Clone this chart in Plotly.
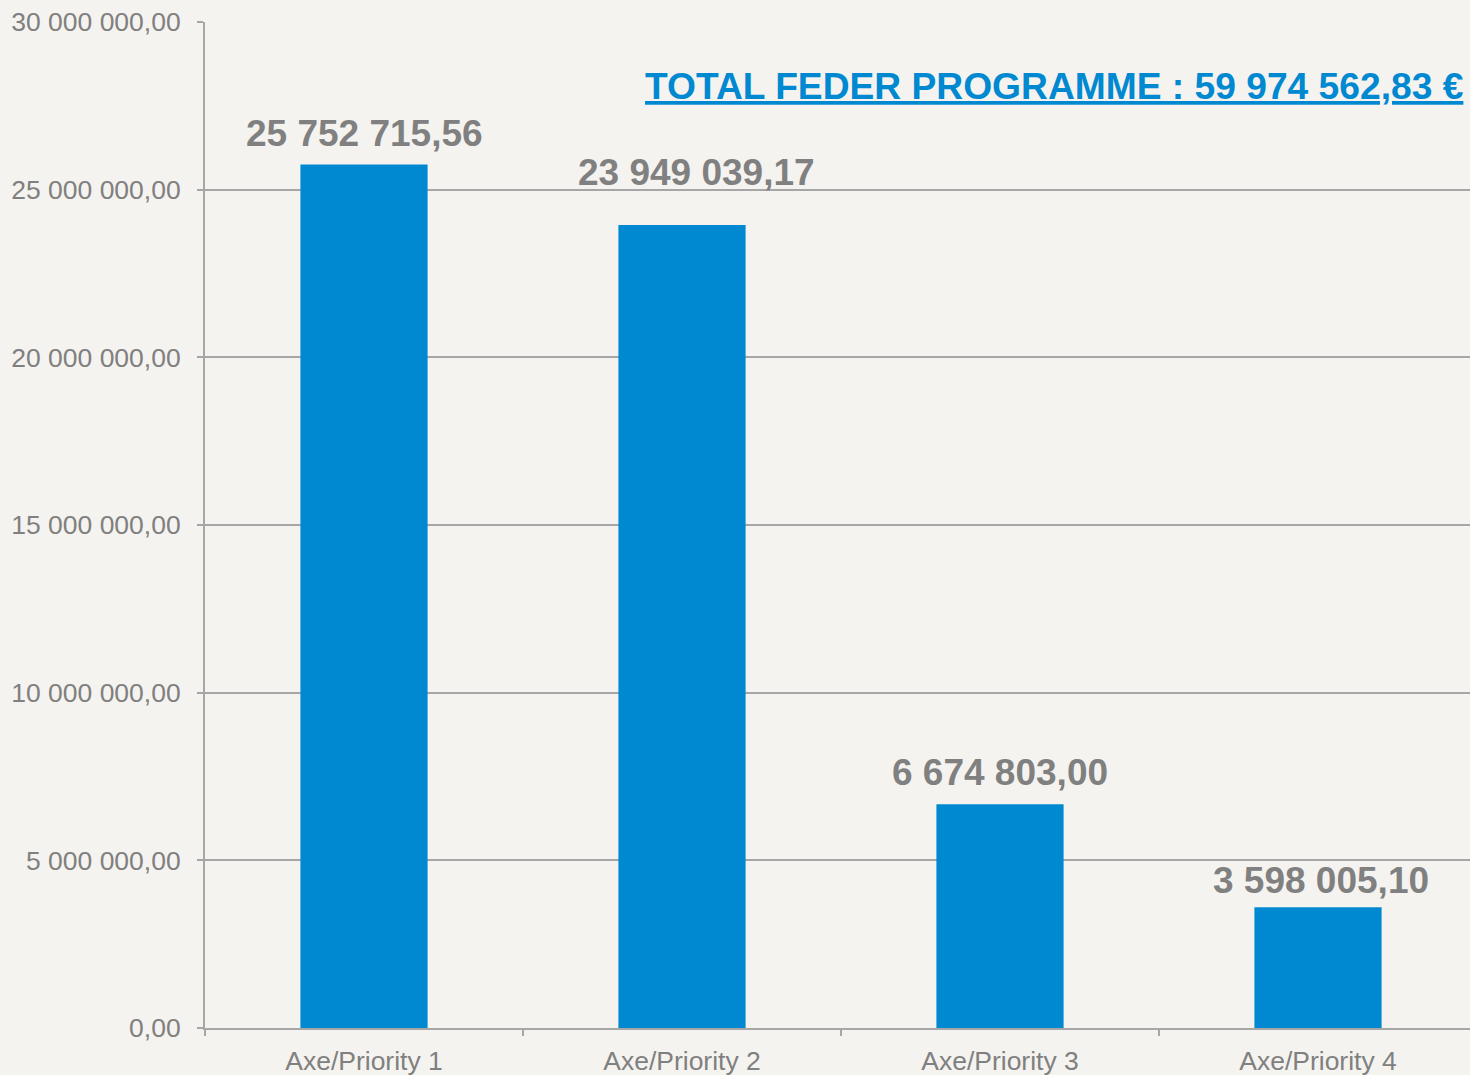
import plotly.graph_objects as go

categories = ["Axe/Priority 1", "Axe/Priority 2", "Axe/Priority 3", "Axe/Priority 4"]
values = [25752715.56, 23949039.17, 6674803.00, 3598005.10]
total_label = "TOTAL FEDER PROGRAMME : 59 974 562,83 €"
y_ticks = [0, 5e6, 10e6, 15e6, 20e6, 25e6, 30e6]

# label placement offsets (pixels) to mimic the original layout
label_dy = [8, 30, 9, 4]
label_dx = [0, 14, 0, 3]

BG = "#F5F3EF"
GRID = "#A6A6A6"
TXT = "#808080"
BAR = "#0089D1"
FONT = "Liberation Sans, Arial"

fig = go.Figure()
fig.add_trace(go.Bar(
    x=categories, y=values, width=0.4,
    marker=dict(color=BAR, line=dict(width=0)),
    hovertemplate="%{x}: %{y:,.2f}<extra></extra>",
))

for cat, val, dy, dx in zip(categories, values, label_dy, label_dx):
    fig.add_annotation(
        x=cat, y=val, xref="x", yref="y",
        text="<b>" + f"{val:,.2f}".replace(",", " ").replace(".", ",") + "</b>",
        showarrow=False, yanchor="bottom", xanchor="center",
        yshift=dy, xshift=dx,
        font=dict(family=FONT, size=37, color=TXT),
    )

fig.add_annotation(
    text="<b><u>" + total_label + "</u></b>",
    xref="paper", yref="y", x=(1464 - 205) / 1265, y=28.1e6,
    xanchor="right", yanchor="middle", showarrow=False, xshift=2,
    font=dict(family=FONT, size=37.2, color=BAR),
)

fig.update_layout(
    width=1470, height=1075,
    margin=dict(l=205, r=0, t=22, b=47, autoexpand=False),
    paper_bgcolor=BG, plot_bgcolor=BG,
    separators=", ",
    showlegend=False,
    font=dict(family=FONT, color=TXT),
    xaxis=dict(
        range=[-0.5, 3.478], tickson="boundaries", ticks="outside", ticklen=6,
        tickcolor=GRID, tickwidth=2, showline=True, linecolor=GRID, linewidth=2,
        showgrid=False, tickfont=dict(size=26.5, color=TXT), ticklabelstandoff=8,
        automargin=False,
    ),
    yaxis=dict(
        range=[0, 30e6], tickvals=y_ticks, tickformat=",.2f",
        ticks="outside", ticklen=6, tickcolor=GRID, tickwidth=2,
        showline=True, linecolor=GRID, linewidth=2,
        showgrid=True, gridcolor=GRID, gridwidth=2, zeroline=False,
        tickfont=dict(size=26.5, color=TXT), ticklabelstandoff=11, automargin=False,
    ),
)

fig.write_html(
    "out.html",
    config={"displayModeBar": False},
    post_script="document.body.style.margin='0';document.body.style.overflow='hidden';document.body.style.background='" + BG + "';",
)
